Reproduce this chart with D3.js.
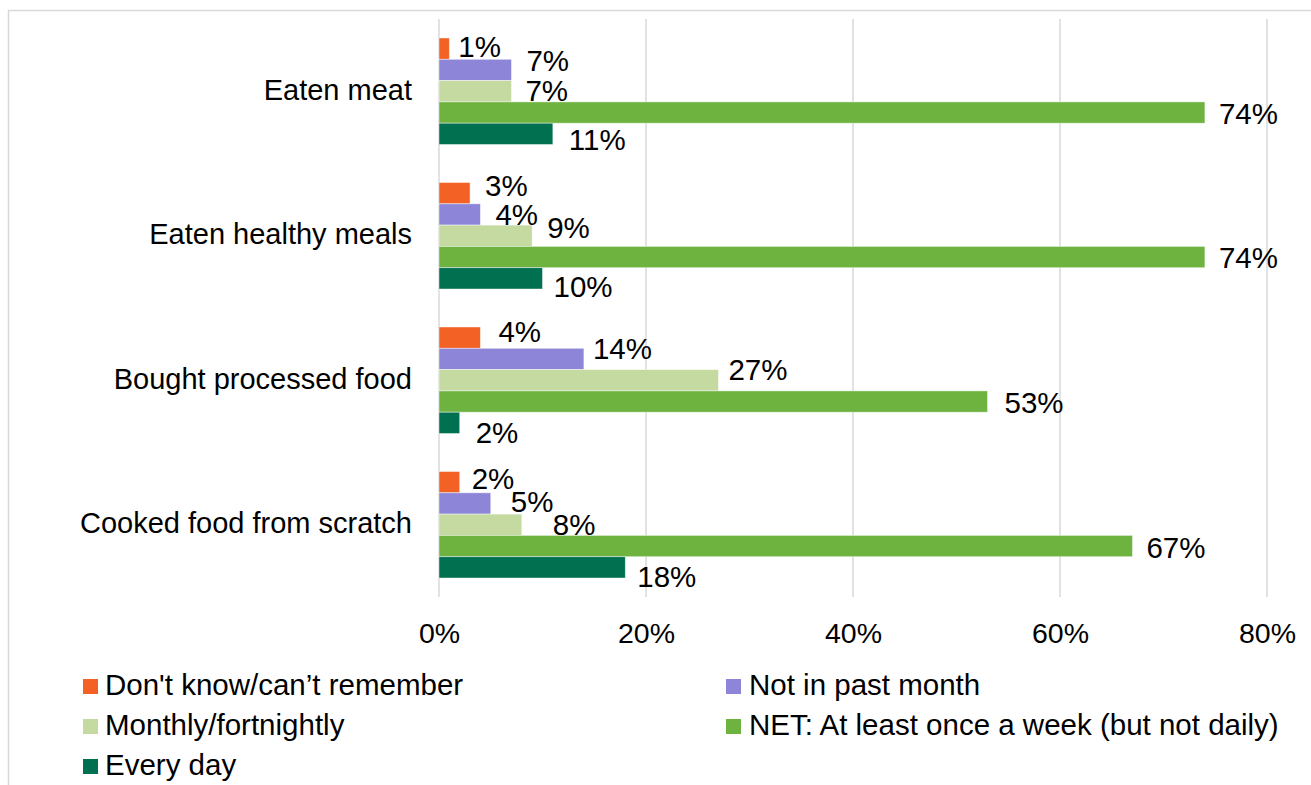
<!DOCTYPE html>
<html>
<head>
<meta charset="utf-8">
<script src="https://cdn.jsdelivr.net/npm/d3@7"></script>
<style>
  html, body { margin: 0; padding: 0; background: #fff; }
  svg { display: block; font-family: "Liberation Sans", Arial, sans-serif; }
</style>
</head>
<body>
<svg id="chart" width="1311" height="785"></svg>
<script>
// Activities asked about
const categories = [
  "Eaten meat",
  "Eaten healthy meals",
  "Bought processed food",
  "Cooked food from scratch"
];

// Frequency answers, in bar order within each group
const seriesNames = [
  "Don't know/can\u2019t remember",
  "Not in past month",
  "Monthly/fortnightly",
  "NET: At least once a week (but not daily)",
  "Every day"
];

// Percentages per series, one value per category
const dontKnow      = [1, 3, 4, 2];
const notPastMonth  = [7, 4, 14, 5];
const monthly       = [7, 9, 27, 8];
const weekly        = [74, 74, 53, 67];
const everyDay      = [11, 10, 2, 18];

const xTicks = [0, 20, 40, 60, 80];

const seriesValues = [dontKnow, notPastMonth, monthly, weekly, everyDay];
const colors = ["#F46125", "#8D86D8", "#C5DAA1", "#6EB33F", "#007050"];

// Small hand offsets [dx, dy] that keep neighbouring value labels apart
const labelNudge = [
  [[-5, -2], [1, -10], [0, -1], [0, 1], [2, 6]],
  [[1, -8], [1, 0], [1, -8], [0, 0], [-3, 8]],
  [[4, -6], [-5, -11], [-4, -11], [3, 1], [2, 10]],
  [[-2, -4], [6, -2], [17, 0], [0, 1], [-2, 9]]
];

const svg = d3.select("#chart");

// outer frame
svg.append("rect")
  .attr("x", 8.5).attr("y", 10.5)
  .attr("width", 1320).attr("height", 800)
  .attr("fill", "none").attr("stroke", "#d9d9d9").attr("stroke-width", 1.5);

const plot = { left: 439, right: 1267, top: 19, bottom: 597 };

const x = d3.scaleLinear().domain([0, 80]).range([plot.left, plot.right]);
const y = d3.scaleBand().domain(categories)
  .range([plot.top, plot.bottom]).paddingInner(0.263).paddingOuter(0.1315);
const ySub = d3.scaleBand().domain(d3.range(seriesNames.length))
  .range([0, y.bandwidth()]);

// vertical gridlines
svg.append("g")
  .selectAll("line")
  .data(xTicks)
  .join("line")
  .attr("x1", d => x(d)).attr("x2", d => x(d))
  .attr("y1", plot.top).attr("y2", plot.bottom)
  .attr("stroke", "#d9d9d9").attr("stroke-width", 1.5);

// x axis tick labels
const xAxis = d3.axisBottom(x).tickValues(xTicks).tickFormat(d => d + "%").tickSize(0).tickPadding(0);
const xg = svg.append("g").attr("transform", `translate(0, 624)`).call(xAxis);
xg.select(".domain").remove();
xg.selectAll("text")
  .attr("font-size", 28.5).attr("fill", "#000")
  .attr("font-family", "Liberation Sans, Arial, sans-serif")
  .attr("dy", "0.68em");

// category labels
const yAxis = d3.axisLeft(y).tickSize(0).tickPadding(0);
const yg = svg.append("g").attr("transform", `translate(412, 0)`).call(yAxis);
yg.select(".domain").remove();
yg.selectAll("text")
  .attr("font-size", 29).attr("fill", "#000")
  .attr("font-family", "Liberation Sans, Arial, sans-serif")
  .attr("dy", "0.3em");

// bars and value labels
const rows = [];
categories.forEach((c, ci) => {
  seriesValues.forEach((vals, si) => {
    rows.push({ cat: c, ci, si, value: vals[ci] });
  });
});

svg.append("g")
  .selectAll("rect")
  .data(rows)
  .join("rect")
  .attr("x", x(0))
  .attr("y", d => y(d.cat) + ySub(d.si))
  .attr("width", d => x(d.value) - x(0))
  .attr("height", ySub.bandwidth())
  .attr("fill", d => colors[d.si])
  .attr("stroke", "rgba(255,255,255,0.55)")
  .attr("stroke-width", 0.8);

svg.append("g")
  .selectAll("text")
  .data(rows)
  .join("text")
  .attr("x", d => x(d.value) + 14 + labelNudge[d.ci][d.si][0])
  .attr("y", d => y(d.cat) + ySub(d.si) + ySub.bandwidth() / 2 + labelNudge[d.ci][d.si][1])
  .attr("dy", "0.36em")
  .attr("font-size", 29.5)
  .attr("fill", "#000")
  .text(d => d.value + "%");

// legend
const legendPos = [
  { sx: 83, tx: 105, base: 695 },
  { sx: 726, tx: 749, base: 695 },
  { sx: 83, tx: 105, base: 735 },
  { sx: 726, tx: 749, base: 735 },
  { sx: 83, tx: 105, base: 775 }
];
const legend = svg.append("g")
  .selectAll("g")
  .data(seriesNames)
  .join("g");
legend.append("rect")
  .attr("x", (d, i) => legendPos[i].sx)
  .attr("y", (d, i) => legendPos[i].base - 16)
  .attr("width", 15).attr("height", 15)
  .attr("fill", (d, i) => colors[i]);
legend.append("text")
  .attr("x", (d, i) => legendPos[i].tx)
  .attr("y", (d, i) => legendPos[i].base)
  .attr("font-size", 29.5)
  .attr("fill", "#000")
  .text(d => d);
</script>
</body>
</html>
